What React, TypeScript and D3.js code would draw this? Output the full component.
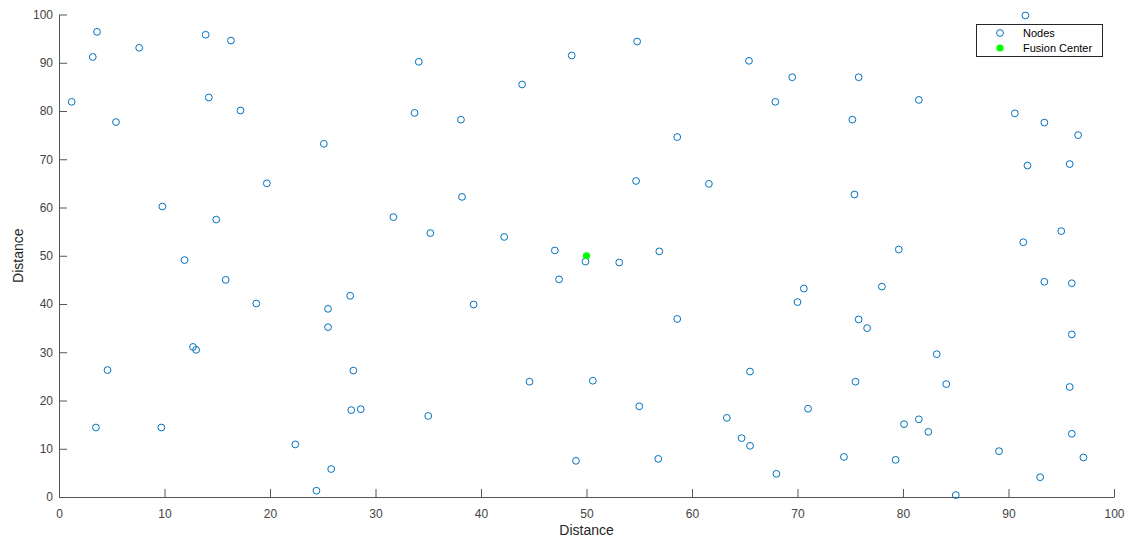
import { useEffect, useRef } from 'react';
import * as d3 from 'd3';

// node positions (x, y in "Distance" units)
const nodeX = [
  3.6, 3.2, 7.6, 13.9, 16.3, 1.2, 5.4, 14.2, 17.2, 25.1,
  19.7, 9.8, 14.9, 11.9, 15.8, 18.7, 27.6, 25.5, 25.5, 12.7,
  13.0, 4.6, 27.9, 27.7, 28.6, 3.5, 9.7, 22.4, 25.8, 24.4,
  34.1, 48.6, 54.8, 65.4, 43.9, 33.7, 38.1, 58.6, 54.7, 61.6,
  38.2, 31.7, 35.2, 42.2, 47.0, 49.9, 53.1, 56.9, 47.4, 39.3,
  58.6, 44.6, 50.6, 65.5, 55.0, 35.0, 63.3, 64.7, 65.5, 49.0,
  56.8, 91.6, 69.5, 75.8, 67.9, 81.5, 75.2, 90.6, 93.4, 96.6,
  91.8, 95.8, 75.4, 79.6, 91.4, 95.0, 70.6, 70.0, 78.0, 93.4,
  96.0, 75.8, 76.6, 96.0, 83.2, 75.5, 84.1, 95.8, 71.0, 80.1,
  81.5, 82.4, 96.0, 74.4, 79.3, 89.1, 97.1, 68.0, 93.0, 85.0,
];
const nodeY = [
  96.4, 91.2, 93.1, 95.8, 94.6, 81.9, 77.7, 82.8, 80.1, 73.2,
  65.0, 60.2, 57.5, 49.1, 45.0, 40.1, 41.7, 39.0, 35.2, 31.1,
  30.5, 26.3, 26.2, 18.0, 18.2, 14.4, 14.4, 10.9, 5.8, 1.3,
  90.2, 91.5, 94.4, 90.4, 85.5, 79.6, 78.2, 74.6, 65.5, 64.9,
  62.2, 58.0, 54.7, 53.9, 51.1, 48.8, 48.6, 50.9, 45.1, 39.9,
  36.9, 23.9, 24.1, 26.0, 18.8, 16.8, 16.4, 12.2, 10.6, 7.5,
  7.9, 99.8, 87.0, 87.0, 81.9, 82.3, 78.2, 79.5, 77.6, 75.0,
  68.7, 69.0, 62.7, 51.3, 52.8, 55.1, 43.2, 40.4, 43.6, 44.6,
  44.3, 36.8, 35.0, 33.7, 29.6, 23.9, 23.4, 22.8, 18.3, 15.1,
  16.1, 13.5, 13.1, 8.3, 7.7, 9.5, 8.2, 4.8, 4.1, 0.4,
];
const fusionCenter = [50, 50];
const ticks = [0, 10, 20, 30, 40, 50, 60, 70, 80, 90, 100];
const legendLabels = ['Nodes', 'Fusion Center'];

export default function App() {
  const ref = useRef<SVGSVGElement>(null);

  useEffect(() => {
    const svg = d3.select(ref.current);
    svg.selectAll('*').remove();

    const left = 59, right = 1114, top = 14.5, bottom = 497;
    const axisColor = '#555';
    const textColor = '#444';
    const font = '"Liberation Sans", Arial, sans-serif';

    const x = d3.scaleLinear().domain([0, 100]).range([left, right]);
    const y = d3.scaleLinear().domain([0, 100]).range([bottom, top]);

    // X axis (ticks pointing inward)
    const gx = svg.append('g')
      .attr('transform', `translate(0,${bottom})`)
      .call(d3.axisBottom(x).tickValues(ticks).tickSizeInner(-8).tickSizeOuter(0).tickPadding(8));
    gx.select('.domain').attr('stroke', axisColor);
    gx.selectAll('line').attr('stroke', axisColor);
    gx.selectAll('text')
      .attr('fill', textColor)
      .attr('font-size', 12)
      .attr('font-family', font)
      .attr('dy', '1.1em');

    // Y axis
    const gy = svg.append('g')
      .attr('transform', `translate(${left},0)`)
      .call(d3.axisLeft(y).tickValues(ticks).tickSizeInner(-8).tickSizeOuter(0).tickPadding(6));
    gy.select('.domain').attr('stroke', axisColor);
    gy.selectAll('line').attr('stroke', axisColor);
    gy.selectAll('text')
      .attr('fill', textColor)
      .attr('font-size', 12)
      .attr('font-family', font)
      .attr('x', -6);

    // Axis titles
    svg.append('text')
      .attr('x', (left + right) / 2)
      .attr('y', 535)
      .attr('text-anchor', 'middle')
      .attr('font-size', 14)
      .attr('font-family', font)
      .attr('fill', '#262626')
      .text('Distance');

    svg.append('text')
      .attr('transform', `translate(23,${(top + bottom) / 2}) rotate(-90)`)
      .attr('text-anchor', 'middle')
      .attr('font-size', 14)
      .attr('font-family', font)
      .attr('fill', '#262626')
      .text('Distance');

    // Nodes
    svg.append('g')
      .selectAll('circle')
      .data(nodeX.map((d, i) => [d, nodeY[i]]))
      .enter().append('circle')
      .attr('cx', d => x(d[0]))
      .attr('cy', d => y(d[1]))
      .attr('r', 3.4)
      .attr('fill', 'none')
      .attr('stroke', '#0072BD')
      .attr('stroke-width', 1);

    // Fusion center
    svg.append('circle')
      .attr('cx', x(fusionCenter[0]))
      .attr('cy', y(fusionCenter[1]))
      .attr('r', 3.6)
      .attr('fill', '#00ff00');

    // Legend
    const lg = svg.append('g');
    lg.append('rect')
      .attr('x', 976.5).attr('y', 24.5)
      .attr('width', 126).attr('height', 32)
      .attr('fill', '#fff')
      .attr('stroke', '#262626')
      .attr('stroke-width', 1);
    legendLabels.forEach((label, i) => {
      const cy = 33 + i * 15;
      if (i === 0) {
        lg.append('circle').attr('cx', 1000).attr('cy', cy).attr('r', 3.4)
          .attr('fill', 'none').attr('stroke', '#0072BD');
      } else {
        lg.append('circle').attr('cx', 1000).attr('cy', cy).attr('r', 3.6)
          .attr('fill', '#00ff00');
      }
      lg.append('text')
        .attr('x', 1023).attr('y', cy + 4)
        .attr('font-size', 11)
        .attr('font-family', font)
        .attr('fill', '#000')
        .text(label);
    });
  }, []);

  return (
    <div style={{ position: 'absolute', left: 0, top: 0 }}>
      <svg ref={ref} width={1141} height={545} style={{ display: 'block', background: '#fff' }} />
    </div>
  );
}
